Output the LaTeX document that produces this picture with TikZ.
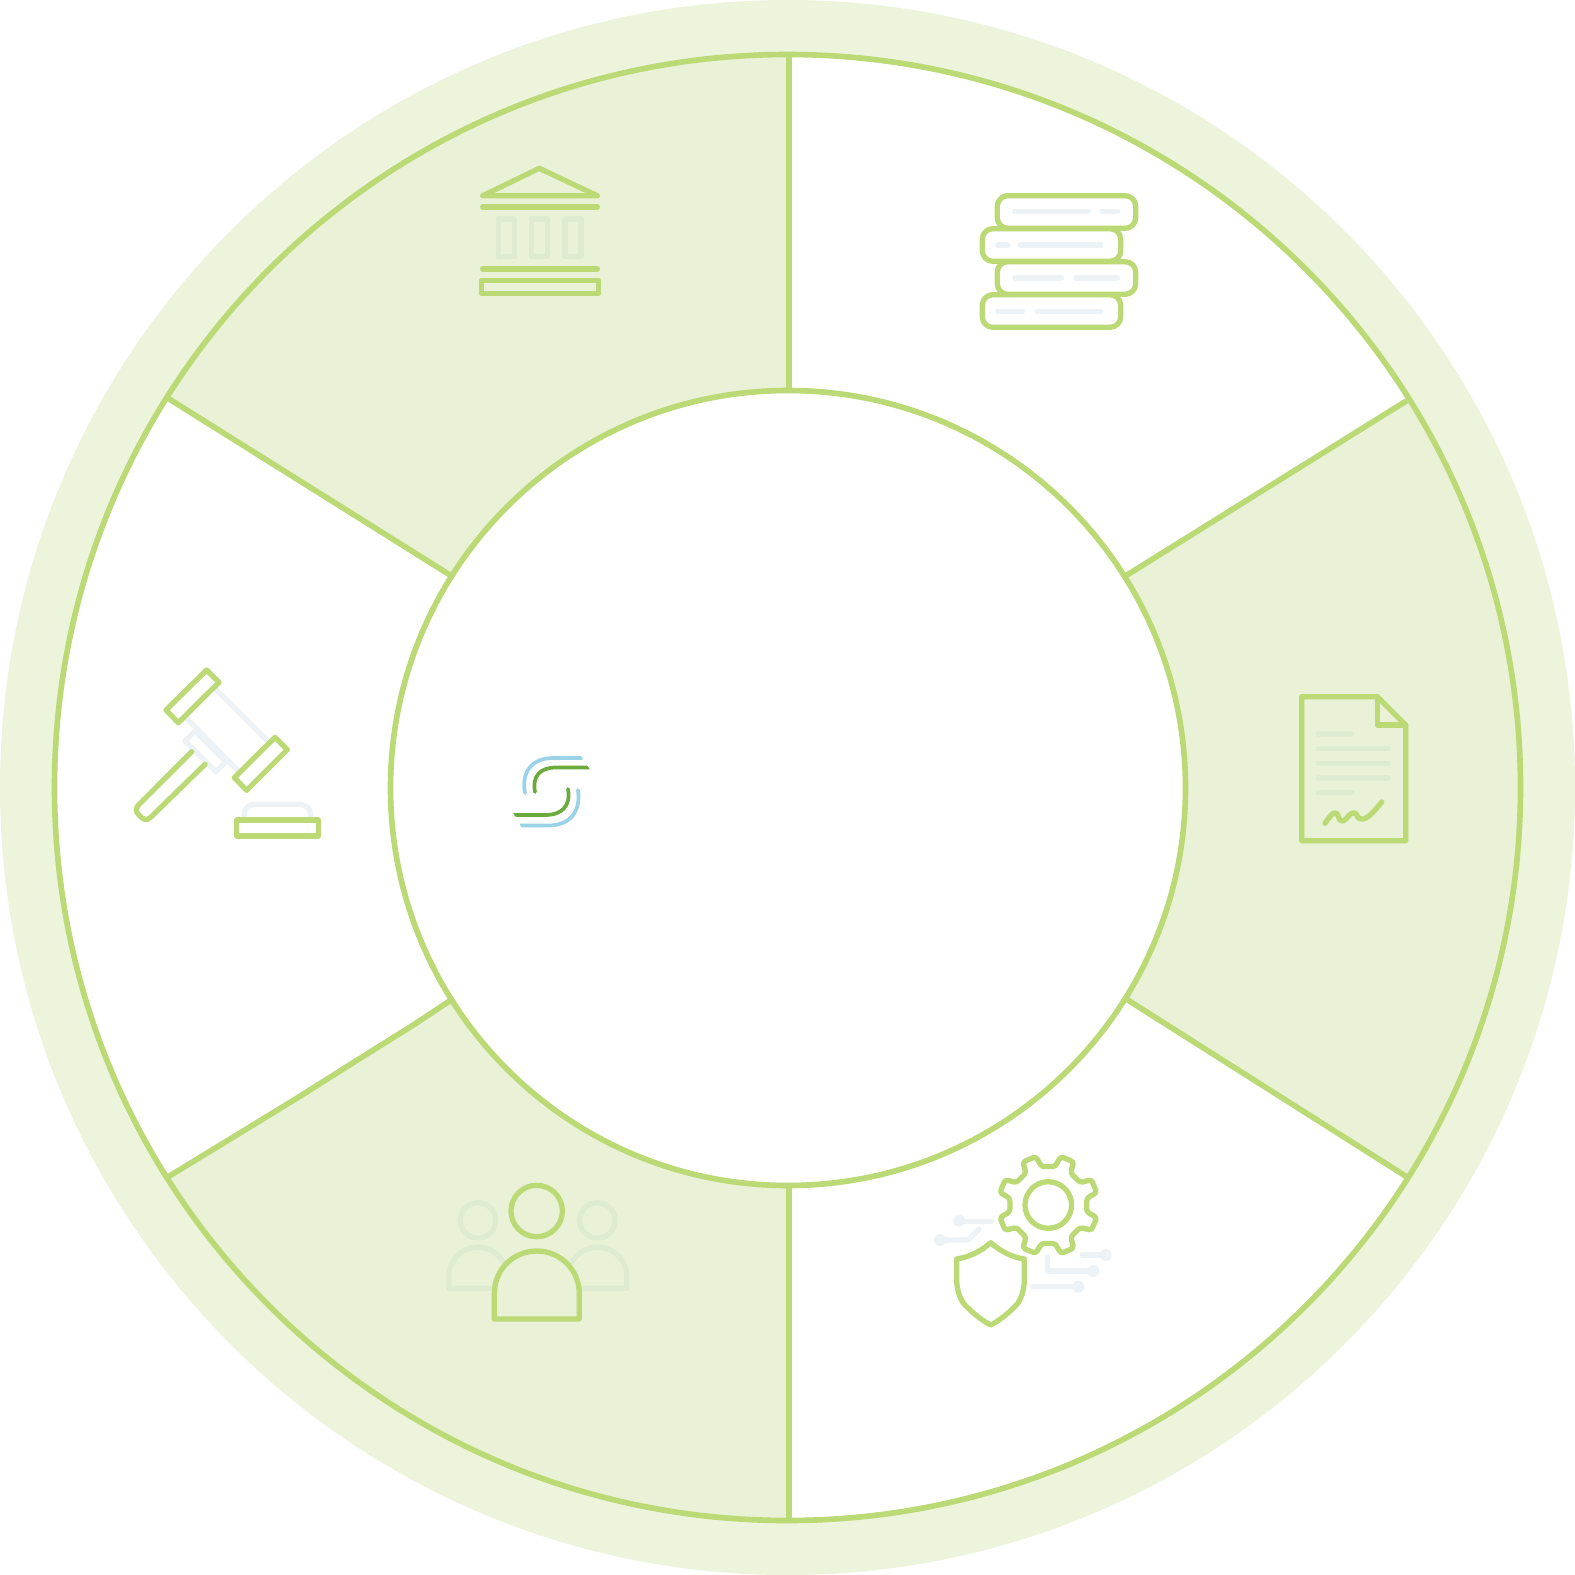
\documentclass[tikz,border=0pt]{standalone}
\usepackage{tikz}
\definecolor{leafline}{HTML}{BBD974}
\definecolor{leaffill}{HTML}{E9F2D6}
\definecolor{leafdisc}{HTML}{ECF4DC}
\definecolor{paleleaf}{HTML}{DFEBD1}
\definecolor{palegrey}{HTML}{EDF2F6}
\definecolor{logoblue}{HTML}{9AD3E8}
\definecolor{logogreen}{HTML}{6AAB3B}
\tikzset{
  ringline/.style = {leafline,line width=1.6pt},
  iconline/.style = {leafline,line width=1.5pt,line join=round,line cap=round},
  paleline/.style = {paleleaf,line width=1.5pt,line join=round,line cap=round},
  greyline/.style = {palegrey,line width=1.5pt,line join=round,line cap=round},
  logoline/.style = {line width=1.05pt}
}
\newcommand{\pin}[2]{\fill[palegrey] (#1,#2) circle (6);}
\begin{document}
\begin{tikzpicture}[x=0.01cm,y=-0.01cm]
  \useasboundingbox (0,0) rectangle (1575,1575);
  \fill[leafdisc] (787.5,787.5) circle (787.5);
  \fill[white] (787.5,787.5) circle (733);
  % sectors
  \begin{scope}
    \clip (787.5,787.5) circle (733);
    \fill[leaffill] (789.3,0) -- (789.3,390) -- (451,575.6) -- (166,397) -- (6,297) -- (6,0) -- cycle;
    \fill[leaffill] (1127,575) -- (1406.7,400.7) -- (1566,301) -- (1566,1276) -- (1407,1177) -- (1127,999.5) -- cycle;
    \fill[leaffill] (789.3,1186) -- (450,1000.7) -- (413.3,1025) -- (346.7,1066.7) -- (296.7,1098.3) -- (168.3,1176.7) -- (8,1275) -- (8,1575) -- (789.3,1575) -- cycle;
  \end{scope}
  \fill[white] (788,788) circle (397.5);
  % spokes
  \draw[ringline] (789.3,54.5) -- (789.3,390);
  \draw[ringline] (789.3,1186) -- (789.3,1521);
  \draw[ringline] (166,397) -- (451,575.6);
  \draw[ringline] (1406.7,400.7) -- (1127,575);
  \draw[ringline] (1407,1177) -- (1127,999.5);
  \draw[ringline] (450,1000.7) -- (413.3,1025) -- (346.7,1066.7) -- (296.7,1098.3) -- (168.3,1176.7);
  \draw[ringline] (787.5,787.5) circle (733);
  \draw[ringline] (788,788) circle (397.5);
  % bank
  \draw[iconline] (539.3,168.3) -- (482.7,195.7) -- (597.3,195.7) -- cycle;
  \draw[iconline] (482.7,207) -- (597.3,207);
  \draw[iconline] (482.7,269) -- (597.3,269);
  \draw[iconline] (481.3,280.3) rectangle (598.3,293.7);
  \foreach \px in {498.3,531.7,565}
    \draw[paleline] (\px,219) rectangle (\px+16,256.7);
  % books
  \draw[iconline,rounded corners=3pt] (997.3,195.7) rectangle (1135.7,228.3);
  \draw[iconline,rounded corners=3pt] (982.3,228.7) rectangle (1120.7,261.3);
  \draw[iconline,rounded corners=3pt] (997.3,261.7) rectangle (1135.7,294.3);
  \draw[iconline,rounded corners=3pt] (982.3,294.7) rectangle (1120.7,327.3);
  \draw[greyline] (1015,211.3) -- (1088.3,211.3) (1101.7,211.3) -- (1117.7,211.3);
  \draw[greyline] (997.7,245) -- (1007.7,245) (1020.3,245) -- (1100.7,245);
  \draw[greyline] (1015,278) -- (1061.7,278) (1076,278) -- (1117.7,278);
  \draw[greyline] (997.7,311.3) -- (1022.3,311.3) (1037.3,311.3) -- (1100.7,311.3);
  % gavel
  \draw[greyline] (215,688.3) -- (268.3,741.7);
  \draw[greyline] (186.7,718.3) -- (238.3,771);
  \draw[greyline] (195,731) -- (185,741) -- (216,771.7) -- (226,761.7) -- cycle;
  \draw[iconline] (206.7,670) -- (219,682.3) -- (178.3,722.7) -- (166,710) -- cycle;
  \draw[iconline] (275,737.3) -- (287.3,749.7) -- (246.7,790.3) -- (234.3,777.7) -- cycle;
  \draw[iconline] (191.7,751.7) -- (138.5,805) .. controls (135,809) and (136,812) .. (139,815)
    .. controls (143,820) and (147,821) .. (151,817) -- (205,764.3);
  \draw[greyline,rounded corners=3pt] (244,818) -- (244,804.3) -- (310.7,804.3) -- (310.7,818);
  \draw[iconline] (236.7,820) rectangle (318.3,836);
  % logo
  \draw[logoline,logoblue,line cap=round] (525,793) .. controls (521,772) and (532,758) .. (553,758) -- (581,758);
  \draw[logoline,logoblue,line cap=round] (578,790) .. controls (581,812) and (570,825.5) .. (548,825.5) -- (522,825.5);
  \draw[logoline,logogreen,line cap=round] (535,792) .. controls (532,776) and (540,767.5) .. (556,767.5) -- (587,767.5);
  \draw[logoline,logogreen,line cap=round] (568,789) .. controls (571,806) and (562,815) .. (545,815) -- (516,815);
  \fill[logoblue] (580,756.3) -- (582.7,759.7) -- (580,759.7) -- cycle;
  \fill[logoblue] (519.5,823.7) -- (522,827.2) -- (522,823.7) -- cycle;
  \fill[logogreen] (586,765.7) -- (590,769.3) -- (586,769.3) -- cycle;
  \fill[logogreen] (513,813.2) -- (516.5,816.8) -- (516.5,813.2) -- cycle;
  % document
  \draw[iconline] (1301.7,696.7) -- (1377.3,696.7) -- (1405.7,725) -- (1405.7,840.7) -- (1301.7,840.7) -- cycle;
  \draw[iconline] (1377.3,696.7) -- (1377.3,725) -- (1405.7,725);
  \draw[paleline] (1318.3,734) -- (1351.7,734);
  \foreach \py in {748.7,763.3,778}
    \draw[paleline] (1318.3,\py) -- (1388,\py);
  \draw[paleline] (1318.3,792.7) -- (1351.7,792.7);
  \draw[iconline] (1325,823.3) .. controls (1330,816) and (1333,812) .. (1336,813)
    .. controls (1339,814) and (1338,822) .. (1343,821)
    .. controls (1347,820) and (1350,811) .. (1355,813)
    .. controls (1358,815) and (1357,820) .. (1363,819)
    .. controls (1369,818) and (1376,809) .. (1381.7,802);
  % people
  \draw[paleline] (478,1220.3) circle (17.7);
  \draw[paleline] (597.3,1220.3) circle (17.7);
  \draw[paleline] (503,1261.7) .. controls (497,1252) and (488,1247.3) .. (478,1247.3)
    .. controls (461,1247.3) and (449,1260) .. (449,1276) -- (449,1288.3) -- (494,1288.3);
  \draw[paleline] (572.3,1261.7) .. controls (578.3,1252) and (587.3,1247.3) .. (597.3,1247.3)
    .. controls (614.3,1247.3) and (626.7,1260) .. (626.7,1276) -- (626.7,1288.3) -- (581,1288.3);
  \draw[iconline] (536.7,1211) circle (25.7);
  \draw[iconline] (494.3,1319) -- (494.3,1293.5) .. controls (494.3,1270) and (513,1251) .. (536.8,1251)
    .. controls (560.5,1251) and (579.3,1270) .. (579.3,1293.5) -- (579.3,1319) -- cycle;
  % gear and shield
  \draw[iconline] (1048.3,1205) circle (23.3);
  \draw[iconline,rounded corners=0.8pt,shift={(1048.3,1205)}] (10:39)
    \foreach \ang in {0,45,...,315} {
      -- (\ang+10:39) -- (\ang+14.5:50) -- (\ang+30.5:50) -- (\ang+35:39)
    } -- cycle;
  \draw[iconline] (990.7,1242.7) .. controls (981,1251) and (970,1257) .. (956.7,1259) -- (956.7,1280)
    .. controls (956.7,1291) and (961,1302) .. (967,1307) .. controls (975,1315) and (983,1321) .. (990.7,1325)
    .. controls (998.4,1321) and (1006.4,1315) .. (1014.4,1307) .. controls (1020.4,1302) and (1024.3,1291) .. (1024.3,1280)
    -- (1024.3,1259) .. controls (1011,1257) and (1000.4,1251) .. cycle;
  \pin{959.3}{1220.7}
  \pin{940}{1240}
  \pin{1105.7}{1255}
  \pin{1093.3}{1271}
  \pin{1078.3}{1286.7}
  \draw[greyline] (959.3,1221.3) -- (991.7,1221.3);
  \draw[greyline] (940,1240) -- (968.3,1240) -- (979,1229);
  \draw[greyline] (1105.7,1255) -- (1082.3,1255);
  \draw[greyline] (1093.3,1271) -- (1047.7,1271) -- (1047.7,1257.3);
  \draw[greyline] (1078.3,1286.7) -- (1032.7,1286.7);
\end{tikzpicture}
\end{document}
